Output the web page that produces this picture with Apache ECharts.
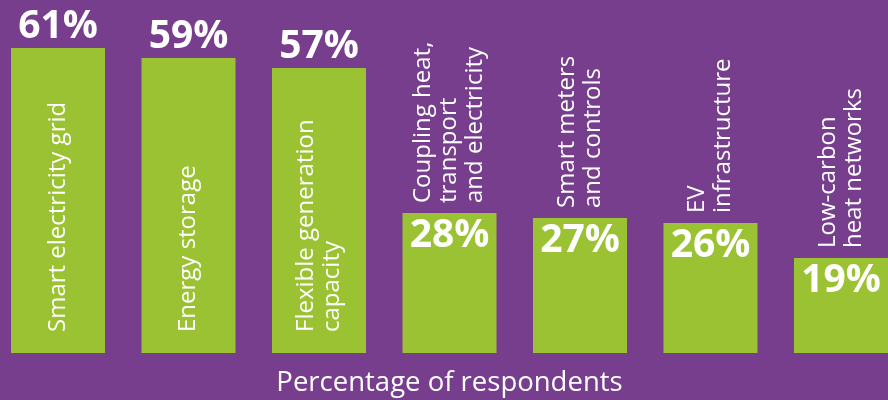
<!DOCTYPE html>
<html>
<head>
<meta charset="utf-8">
<title>Percentage of respondents</title>
<script src="https://cdn.jsdelivr.net/npm/echarts@6/dist/echarts.min.js"></script>
<style>
  html, body { margin: 0; padding: 0; background: #773e8e; }
  #chart { width: 888px; height: 400px; }
</style>
</head>
<body>
<div id="chart"></div>
<script>
// Survey answers, share of respondents per technology
const categories = [
  'Smart electricity grid',
  'Energy storage',
  'Flexible generation\ncapacity',
  'Coupling heat,\ntransport\nand electricity',
  'Smart meters\nand controls',
  'EV\ninfrastructure',
  'Low-carbon\nheat networks'
];
const values = [61, 59, 57, 28, 27, 26, 19];
// Bars tall enough to hold their name inside; the others carry it above
const nameInside = [true, true, true, false, false, false, false];

const PURPLE = '#773e8e';
const GREEN = '#9bc232';
const FONT = '"Open Sans", "Noto Sans", sans-serif';

const valueData = values.map((v, i) => ({
  value: v,
  label: nameInside[i]
    ? { position: 'top', distance: 2 }
    : { position: 'insideTop', distance: 3 }
}));

const nameData = values.map((v, i) => ({
  value: v,
  label: nameInside[i]
    ? { position: 'insideBottom', distance: 21 }
    : { position: 'top', distance: 10 }
}));

const chart = echarts.init(document.getElementById('chart'), null, { renderer: 'canvas' });
chart.setOption({
  backgroundColor: PURPLE,
  animation: false,
  grid: {
    left: -7.25, width: 913.5, top: 3, bottom: 47,
    outerBoundsMode: 'none', containLabel: false
  },
  xAxis: {
    type: 'category',
    data: categories,
    axisLine: { show: false },
    axisTick: { show: false },
    axisLabel: { show: false },
    name: 'Percentage of respondents',
    nameLocation: 'middle',
    nameGap: 16,
    nameTextStyle: { color: '#ffffff', fontSize: 27.5, fontFamily: FONT }
  },
  yAxis: {
    type: 'value',
    min: 0,
    max: 70,
    show: false,
    splitLine: { show: false }
  },
  series: [
    {
      type: 'bar',
      data: valueData,
      barWidth: 94,
      itemStyle: { color: GREEN },
      label: {
        show: true,
        formatter: '{c}%',
        color: '#ffffff',
        fontSize: 39,
        fontWeight: 'bold',
        fontFamily: FONT
      },
      z: 2
    },
    {
      type: 'bar',
      data: nameData,
      barWidth: 94,
      barGap: '-100%',
      itemStyle: { color: 'rgba(0,0,0,0)' },
      label: {
        show: true,
        formatter: (p) => categories[p.dataIndex],
        rotate: 90,
        align: 'left',
        verticalAlign: 'middle',
        color: '#ffffff',
        fontSize: 24,
        lineHeight: 26,
        fontFamily: FONT
      },
      z: 3
    }
  ]
});
</script>
</body>
</html>
